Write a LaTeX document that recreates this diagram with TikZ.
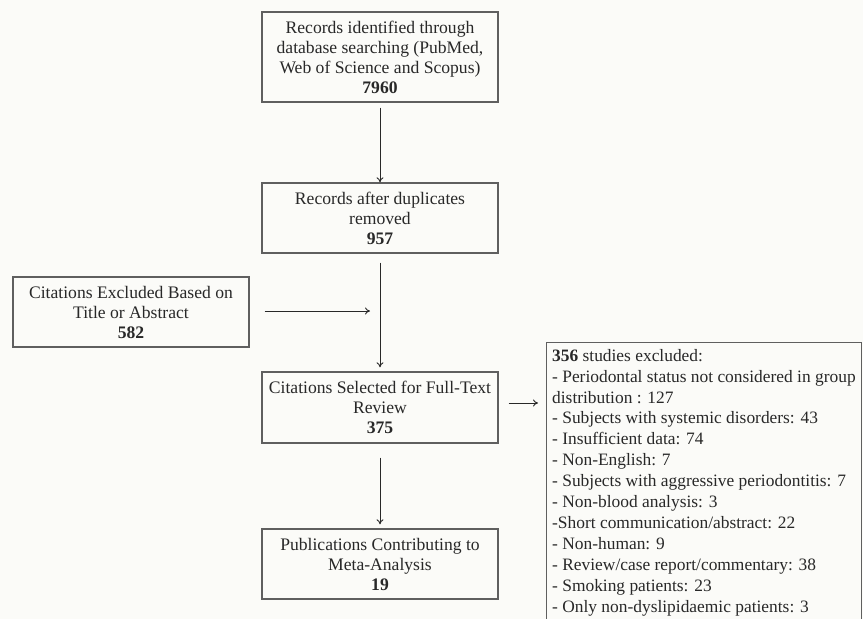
\documentclass[tikz,border=0pt]{standalone}
\usepackage{fontspec}
\setmainfont{Liberation Serif}
\usetikzlibrary{arrows.meta}
\definecolor{bg}{RGB}{251,251,248}
\definecolor{ink}{RGB}{40,40,40}
\definecolor{frame}{RGB}{95,95,95}
\tikzset{
  box/.style={draw=frame, line width=1.3pt, minimum width=236pt, align=center,
    inner sep=2pt, text=ink, font=\fontsize{17.6}{20}\selectfont},
  arr/.style={draw=ink, line width=0.9pt, -{To[length=5pt,width=7pt]}},
}
\begin{document}
\begin{tikzpicture}[x=1pt,y=-1pt]
\fill[bg] (0,0) rectangle (863,619);
\useasboundingbox (0,0) rectangle (863,619);
\clip (0,0) rectangle (863,619);
\node[box, minimum height=90pt] (b1) at (380,57)
  {Records identified through\\database searching (PubMed,\\Web of Science and Scopus)\\\textbf{7960}};
\node[box, minimum height=70pt] (b2) at (380,218)
  {Records after duplicates\\removed\\\textbf{957}};
\node[box, minimum height=70pt] (b3) at (131,312)
  {Citations Excluded Based on\\Title or Abstract\\\textbf{582}};
\node[box, minimum height=71pt] (b4) at (380,407.5)
  {Citations Selected for Full-Text\\Review\\\textbf{375}};
\node[box, minimum height=70pt] (b5) at (380,564)
  {Publications Contributing to\\Meta-Analysis\\\textbf{19}};
\node[draw=frame, line width=1.3pt, minimum width=315pt, minimum height=300pt,
  anchor=north west, inner sep=0pt] (ex) at (546,342) {};
\node[anchor=north west, align=left, inner sep=0pt, text=ink,
  font=\fontsize{17.4}{20.9}\selectfont] (extext) at (552,349)
  {\textbf{356} studies excluded:\\
   - Periodontal status not considered in group\\
   distribution : 127\\
   - Subjects with systemic disorders: 43\\
   - Insufficient data: 74\\
   - Non-English: 7\\
   - Subjects with aggressive periodontitis: 7\\
   - Non-blood analysis: 3\\
   -Short communication/abstract: 22\\
   - Non-human: 9\\
   - Review/case report/commentary: 38\\
   - Smoking patients: 23\\
   - Only non-dyslipidaemic patients: 3};
\coordinate (m) at (370,311);
\draw[arr, shorten <=5pt] (b1.south) -- (b2.north);
\draw[arr, shorten <=9pt, shorten >=4pt] (b2.south) -- (b4.north);
\draw[arr, shorten <=15pt] (b3.east |- m) -- (m);
\draw[arr, shorten <=14pt, shorten >=4pt] (b4.south) -- (b5.north);
\draw[arr, shorten <=10pt, shorten >=8pt] ([yshift=4.5pt]b4.east) -- ([yshift=4.5pt]b4.east -| ex.west);
\end{tikzpicture}
\end{document}
